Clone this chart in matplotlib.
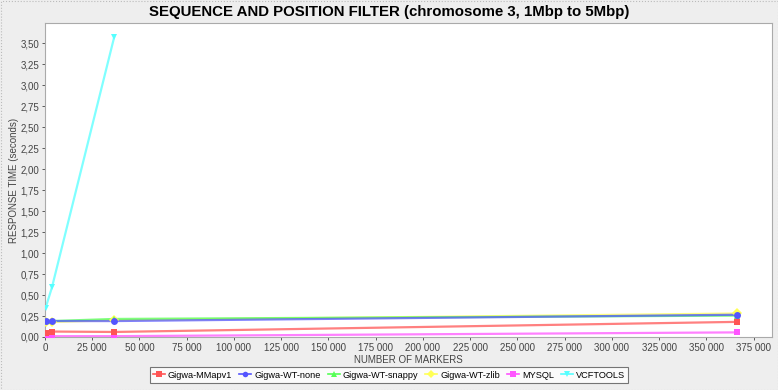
import matplotlib
matplotlib.use("Agg")
import matplotlib.pyplot as plt
from matplotlib.ticker import FuncFormatter, MultipleLocator
from matplotlib.patches import Rectangle

plt.rcParams["font.family"] = ["Liberation Sans", "DejaVu Sans"]

markers_count = [366, 3660, 36600, 366000]
series_names = ["Gigwa-MMapv1", "Gigwa-WT-none", "Gigwa-WT-snappy", "Gigwa-WT-zlib", "MYSQL", "VCFTOOLS"]
mmapv1 = [0.045, 0.065, 0.06, 0.18]
wt_none = [0.19, 0.19, 0.19, 0.265]
wt_snappy = [0.19, 0.19, 0.215, 0.255]
wt_zlib = [0.175, 0.18, 0.2, 0.28]
mysql = [0.01, 0.01, 0.01, 0.055]
vcftools = [0.35, 0.59, 3.57]

series_values = [mmapv1, wt_none, wt_snappy, wt_zlib, mysql, vcftools]
colors = ["#FF5555", "#5555FF", "#55FF55", "#FFFF55", "#FF55FF", "#55FFFF"]
mks = ["s", "o", "^", "D", "_", "v"]

W, H = 778, 390
fig = plt.figure(figsize=(W / 100, H / 100), dpi=100, facecolor="#EEEEEE")
ax = fig.add_axes([45 / W, (H - 337) / H, (771.5 - 45) / W, (337 - 23) / H])
ax.set_facecolor("white")

n = len(series_names)
for i, (name, vals, c, m) in enumerate(zip(series_names, series_values, colors, mks)):
    z = 2 + (n - i) * 0.1
    xs = markers_count[:len(vals)]
    ax.plot(xs, vals, color=c, lw=1.6, alpha=0.75, zorder=z)
    if m == "_":
        ax.plot(xs, vals, linestyle="none", marker="s", color=c, markersize=4.5,
                markeredgewidth=0, zorder=z + 1)
    else:
        ax.plot(xs, vals, linestyle="none", marker=m, color=c, markersize=5,
                markeredgewidth=0, zorder=z + 1)

ax.set_xlim(0, 384500)
ax.set_ylim(0, 3.74)
ax.xaxis.set_major_locator(MultipleLocator(25000))
ax.yaxis.set_major_locator(MultipleLocator(0.25))
ax.xaxis.set_major_formatter(FuncFormatter(lambda v, p: f"{int(round(v)):,}".replace(",", " ")))
ax.yaxis.set_major_formatter(FuncFormatter(lambda v, p: f"{v:.2f}".replace(".", ",")))
ax.tick_params(labelsize=7, colors="#444444", length=2, width=0.6, pad=2)
for t in ax.get_xticklabels() + ax.get_yticklabels():
    t.set_color("#444444")
for s in ax.spines.values():
    s.set_color("#AAAAAA")
    s.set_linewidth(0.8)

ax.set_xlabel("NUMBER OF MARKERS", fontsize=7, color="#444444", labelpad=2)
fig.text(14 / W, 1 - 180 / H, "RESPONSE TIME (seconds)", rotation=90, ha="center", va="center",
         fontsize=7, color="#444444")

fig.text(0.5, 1 - 12 / H, "SEQUENCE AND POSITION FILTER (chromosome 3, 1Mbp to 5Mbp)",
         ha="center", va="center", fontsize=10.8, fontweight="bold", color="black")

handles = []
for name, c, m in zip(series_names, colors, mks):
    mm = "s" if m == "_" else m
    h, = ax.plot([], [], color=c, lw=1.2, marker=mm, markersize=4, markeredgewidth=0, label=name)
    handles.append(h)
leg = fig.legend(handles=handles, loc="center", bbox_to_anchor=(0.5, 1 - 375 / H), ncol=6,
                 fontsize=6.6, frameon=True, fancybox=False, handlelength=1.3, handletextpad=0.3,
                 columnspacing=0.8, borderpad=0.35, facecolor="white", edgecolor="#555555")
leg.get_frame().set_linewidth(0.8)

fig.patches.append(Rectangle((0.5 / W, 0.5 / H), 1 - 1 / W, 1 - 1 / H, transform=fig.transFigure,
                             fill=False, edgecolor="#BBBBBB", lw=0.8, linestyle=":"))

fig.savefig("out.png", dpi=100, facecolor=fig.get_facecolor())
